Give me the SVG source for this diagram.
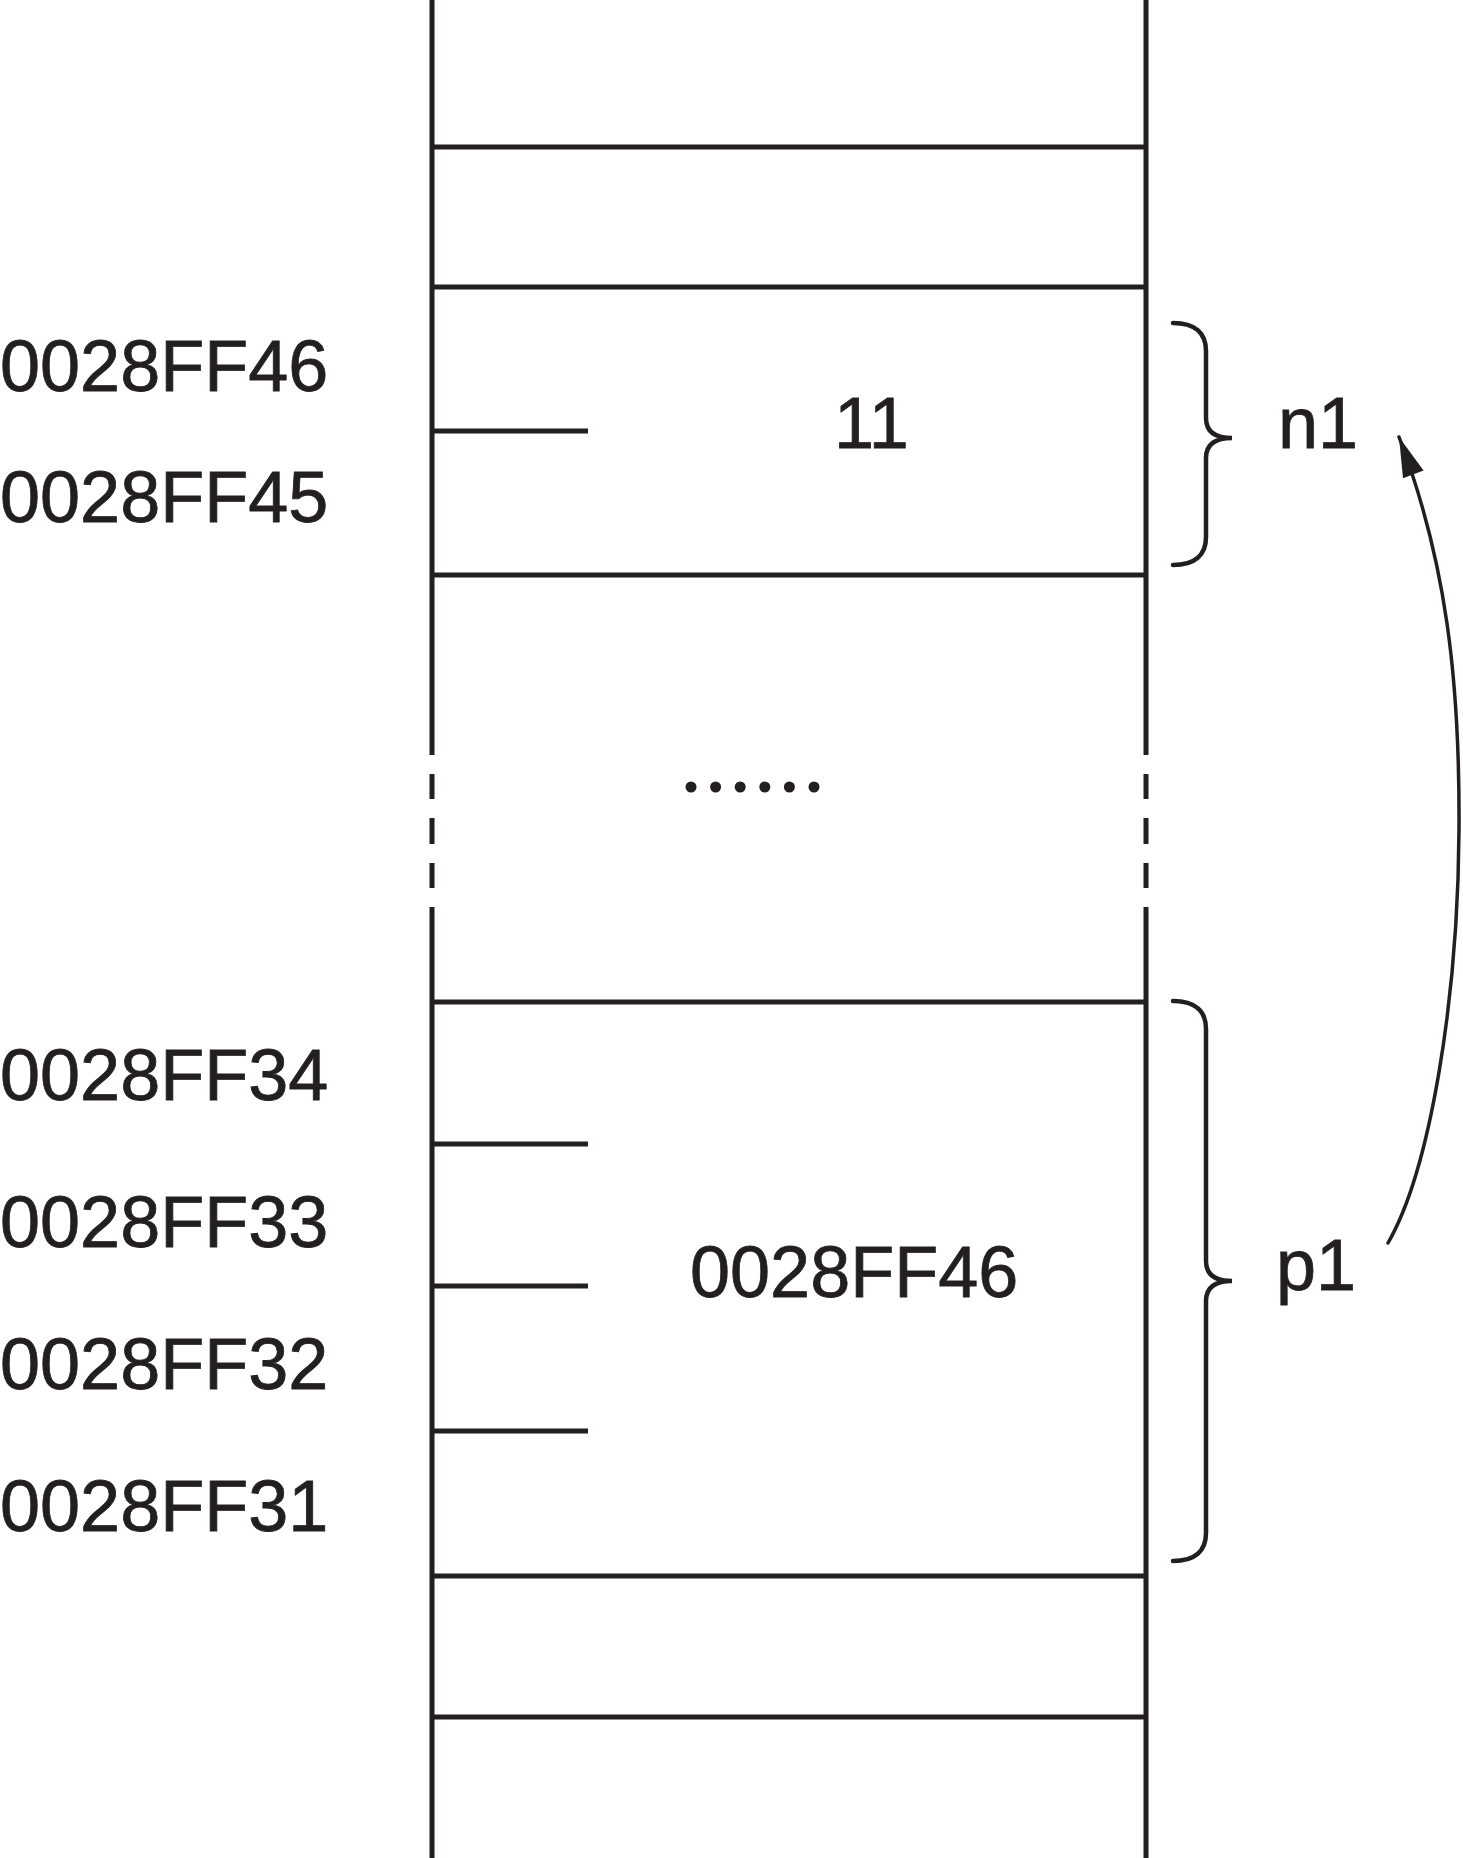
<svg xmlns="http://www.w3.org/2000/svg" width="1463" height="1858" viewBox="0 0 1463 1858">
<style>
.ln{stroke:#231f20;stroke-width:5;fill:none}
.br{stroke:#231f20;stroke-width:4.5;fill:none;stroke-linecap:round}
.t{font-family:"Liberation Sans",Arial,sans-serif;font-size:72px;fill:#231f20;stroke:#231f20;stroke-width:0.8}
</style>
<defs>
<marker id="ah" markerUnits="userSpaceOnUse" markerWidth="60" markerHeight="40" viewBox="-44 -20 60 40" refX="0" refY="0" orient="auto">
<path d="M0,0 L-40,-11 L-40,11 Z" fill="#231f20"/>
</marker>
</defs>
<rect width="1463" height="1858" fill="#fff"/>
<g id="column">
<path class="ln" d="M432,0 V755 M432,774 V799 M432,818 V844 M432,863 V888 M432,907 V1858"/>
<path class="ln" d="M1146,0 V755 M1146,774 V799 M1146,818 V844 M1146,863 V888 M1146,907 V1858"/>
<path class="ln" d="M430,147 H1148 M430,287 H1148 M430,575 H1148 M430,1002 H1148 M430,1576 H1148 M430,1717 H1148"/>
</g>
<g id="n1-cell">
<path class="ln" d="M432,431 H588"/>
<text class="t" x="834" y="448">11</text>
</g>
<g id="gap">
<g fill="#231f20">
<circle cx="691" cy="787" r="5.5"/><circle cx="715.6" cy="787" r="5.5"/><circle cx="740.2" cy="787" r="5.5"/><circle cx="764.8" cy="787" r="5.5"/><circle cx="789.4" cy="787" r="5.5"/><circle cx="814" cy="787" r="5.5"/>
</g>
</g>
<g id="p1-cell">
<path class="ln" d="M432,1144 H588 M432,1286 H588 M432,1431 H588"/>
<text class="t" x="690" y="1297">0028FF46</text>
</g>
<g id="addresses">
<text class="t" x="0" y="391">0028FF46</text>
<text class="t" x="0" y="522">0028FF45</text>
<text class="t" x="0" y="1100">0028FF34</text>
<text class="t" x="0" y="1247">0028FF33</text>
<text class="t" x="0" y="1389">0028FF32</text>
<text class="t" x="0" y="1531">0028FF31</text>
</g>
<g id="n1">
<path class="br" d="M1173,323 C1195,323 1206,333 1206,351 L1206,418 C1206,431 1214,438 1232,438 C1214,438 1206,445 1206,458 L1206,537 C1206,555 1195,565 1173,565"/>
<text class="t" x="1278" y="448">n1</text>
</g>
<g id="p1">
<path class="br" d="M1173,1001 C1195,1001 1206,1011 1206,1029 L1206,1261 C1206,1274 1214,1281 1232,1281 C1214,1281 1206,1288 1206,1301 L1206,1533 C1206,1551 1195,1561 1173,1561"/>
<text class="t" x="1276" y="1290">p1</text>
</g>
<g id="connectors">
<path d="M1388,1243 C1430,1170 1458,1000 1459,830 C1460,680 1446,560 1399,437" stroke="#231f20" stroke-width="3.5" fill="none" stroke-linecap="round" marker-end="url(#ah)"/>
</g>
</svg>
